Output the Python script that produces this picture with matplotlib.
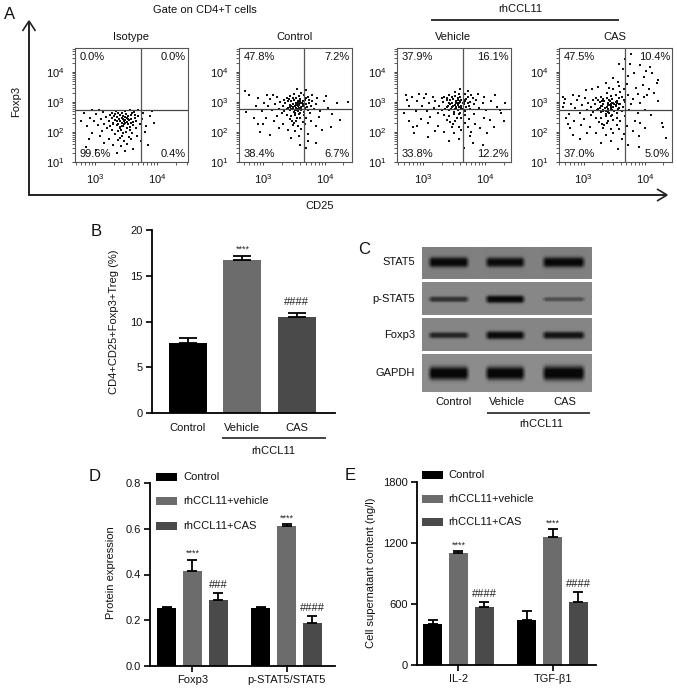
import numpy as np
import matplotlib
matplotlib.use("Agg")
import matplotlib.pyplot as plt
from matplotlib.patches import Rectangle

plt.rcParams['font.family'] = ['Liberation Sans', 'DejaVu Sans']
plt.rcParams['mathtext.default'] = 'regular'
W, H = 677, 691
FS = 8.0

# ---------------- data ----------------
# flow cytometry events: log10(CD25), log10(Foxp3), flat pairs
iso_pts = [
3.41,2.35,3.45,2.42,3.38,2.28,3.52,2.47,3.48,2.31,3.55,2.39,3.33,2.41,3.43,2.21,3.58,2.55,3.50,2.60,
3.36,2.51,3.46,2.52,3.40,2.15,3.61,2.33,3.30,2.30,3.53,2.25,3.64,2.45,3.44,2.63,3.27,2.45,3.56,2.18,
3.42,2.08,3.49,2.40,3.39,2.44,3.47,2.27,3.54,2.53,3.35,2.22,3.60,2.62,3.67,2.38,3.25,2.20,3.51,2.12,
3.37,2.02,3.46,1.95,3.57,2.05,3.32,2.60,3.62,2.24,3.70,2.52,3.22,2.36,3.44,1.88,3.50,1.99,3.40,1.80,
3.63,2.68,3.56,2.72,3.48,2.70,3.34,2.70,3.28,2.62,3.18,2.50,3.15,2.28,3.20,2.12,3.28,2.05,3.33,1.92,
3.38,1.72,3.47,1.70,3.55,1.83,3.60,1.95,3.66,2.12,3.72,2.28,3.76,2.44,3.78,2.62,3.70,2.72,3.10,2.42,
3.05,2.22,3.12,2.02,3.02,2.60,2.98,2.36,2.92,2.48,2.88,2.20,2.82,2.62,2.78,2.35,3.08,1.85,2.95,1.95,
2.90,1.78,3.22,1.75,3.30,1.58,3.42,1.52,3.52,1.60,3.62,1.42,3.48,1.35,3.58,1.75,3.68,1.85,3.80,2.00,
3.82,2.20,3.88,2.52,3.92,2.70,3.95,2.30,3.75,1.70,3.85,1.55,3.35,1.30,3.15,1.62,3.02,1.40,2.85,1.50,
3.43,2.48,3.40,2.55,3.36,2.38,3.46,2.19,3.52,2.34,3.58,2.30,3.31,2.52,3.49,2.50,3.44,2.29,3.41,2.12,
3.54,2.42,3.38,2.62,3.47,2.36,3.29,2.25,3.59,2.44,3.24,2.58,3.65,2.58,3.13,2.65,3.06,2.72,2.96,2.74,
]
ctl_pts = [
3.52,2.85,3.55,2.92,3.48,2.78,3.60,2.98,3.58,2.80,3.65,2.88,3.44,2.90,3.54,2.72,3.68,3.05,3.60,3.10,
3.46,3.02,3.56,3.04,3.50,2.65,3.71,2.84,3.40,2.80,3.62,2.74,3.74,2.96,3.54,3.14,3.36,2.96,3.66,2.68,
3.52,2.58,3.58,2.90,3.48,2.94,3.56,2.76,3.64,3.02,3.44,2.72,3.70,3.12,3.78,2.88,3.34,2.70,3.60,2.62,
3.46,2.52,3.55,2.45,3.67,2.55,3.42,3.10,3.72,2.74,3.80,3.02,3.32,2.86,3.54,2.38,3.60,2.48,3.50,2.30,
3.73,3.18,3.66,3.22,3.58,3.20,3.44,3.20,3.38,3.12,3.28,3.00,3.25,2.78,3.30,2.62,3.38,2.55,3.43,2.42,
3.48,2.22,3.57,2.20,3.65,2.33,3.70,2.45,3.76,2.62,3.82,2.78,3.86,2.94,3.88,3.12,3.80,3.22,3.20,2.92,
3.15,2.72,3.22,2.52,3.12,3.10,3.08,2.86,3.02,2.98,2.98,2.70,2.92,3.12,2.88,2.85,3.18,2.35,3.05,2.45,
3.00,2.28,3.32,2.25,3.40,2.08,3.52,2.02,3.62,2.10,3.72,1.92,3.58,1.85,3.68,2.25,3.78,2.35,3.90,2.50,
3.92,2.70,3.98,3.02,4.02,3.20,4.05,2.80,3.85,2.20,3.95,2.05,3.45,1.80,3.25,2.12,3.12,1.90,2.95,2.00,
3.53,2.98,3.50,3.05,3.46,2.88,3.56,2.69,3.62,2.84,3.68,2.80,3.41,3.02,3.59,3.00,3.54,2.79,3.51,2.62,
3.64,2.92,3.48,3.12,3.57,2.86,3.39,2.75,3.69,2.94,3.34,3.08,3.75,3.08,3.23,3.15,3.16,3.22,3.06,3.24,
3.62,3.30,3.50,3.28,3.72,1.70,3.60,1.55,3.85,1.62,3.70,1.45,3.58,2.60,3.47,2.36,4.12,2.60,4.20,2.95,
4.25,2.40,4.38,3.00,4.10,2.15,2.78,3.22,2.72,2.68,2.70,3.36,2.85,2.45,2.92,2.25,3.55,3.42,3.70,3.40,
3.63,2.95,3.49,2.83,3.57,2.96,3.45,2.75,3.61,2.77,3.53,2.91,3.67,2.91,3.43,2.83,3.59,3.07,3.51,2.74,
]
veh_pts = [
3.52,2.90,3.56,2.98,3.46,2.82,3.62,3.05,3.58,2.84,3.66,2.94,3.42,2.96,3.54,2.76,3.70,3.10,3.60,3.16,
3.44,3.08,3.56,3.12,3.50,2.68,3.74,2.88,3.38,2.84,3.64,2.76,3.76,3.00,3.52,3.20,3.32,3.00,3.68,2.70,
3.50,2.60,3.58,2.95,3.46,2.98,3.54,2.80,3.66,3.08,3.42,2.74,3.72,3.18,3.82,2.92,3.30,2.72,3.60,2.62,
3.42,2.52,3.55,2.45,3.68,2.55,3.38,3.14,3.76,2.76,3.86,3.06,3.26,2.88,3.52,2.36,3.62,2.46,3.48,2.28,
3.78,3.22,3.68,3.28,3.58,3.26,3.42,3.24,3.34,3.18,3.20,3.04,3.18,2.80,3.24,2.62,3.34,2.56,3.38,2.40,
3.46,2.18,3.58,2.18,3.68,2.30,3.74,2.44,3.82,2.60,3.90,2.80,3.96,2.98,3.98,3.16,3.88,3.28,3.10,2.96,
3.06,2.70,3.12,2.50,3.02,3.14,2.98,2.88,2.90,3.02,2.88,2.70,2.82,3.18,2.78,2.88,3.08,2.30,2.96,2.42,
2.90,2.20,3.24,2.20,3.34,2.00,3.50,1.96,3.62,2.05,3.76,1.85,3.58,1.78,3.72,2.18,3.84,2.28,3.98,2.45,
4.02,2.72,4.10,3.04,4.16,3.22,4.20,2.82,3.92,2.12,4.04,1.95,3.42,1.70,3.20,2.02,3.08,1.82,2.86,1.95,
3.53,3.02,3.48,3.10,3.44,2.92,3.56,2.72,3.62,2.88,3.70,2.84,3.38,3.06,3.60,3.04,3.54,2.83,3.50,2.64,
3.66,2.96,3.46,3.16,3.57,2.90,3.36,2.78,3.72,2.98,3.30,3.12,3.80,3.12,3.16,3.18,3.05,3.26,2.94,3.28,
3.72,3.36,3.52,3.34,3.80,1.62,3.66,1.48,3.96,1.55,3.78,2.00,3.58,2.60,3.44,2.34,4.26,2.62,4.32,2.98,
4.30,2.38,2.72,3.24,2.70,2.62,2.74,3.08,2.78,2.38,2.84,2.18,3.60,3.42,4.08,2.40,4.14,2.18,4.24,2.72,
3.64,2.98,3.49,2.86,3.59,3.00,3.45,2.78,3.61,2.80,3.53,2.95,3.68,3.02,3.41,2.87,3.56,3.08,3.51,2.78,
]
cas_pts = [
3.38,2.82,3.42,2.90,3.32,2.74,3.48,2.98,3.44,2.76,3.52,2.86,3.28,2.88,3.40,2.68,3.55,3.04,3.46,3.10,
3.30,3.02,3.42,3.05,3.36,2.60,3.58,2.80,3.24,2.78,3.50,2.70,3.60,2.94,3.38,3.14,3.18,2.94,3.54,2.62,
3.36,2.52,3.44,2.88,3.32,2.92,3.40,2.72,3.52,3.00,3.28,2.68,3.58,3.12,3.64,2.84,3.16,2.66,3.46,2.56,
3.28,2.46,3.40,2.38,3.54,2.48,3.24,3.08,3.62,2.70,3.68,3.00,3.12,2.82,3.38,2.30,3.48,2.40,3.34,2.22,
3.62,3.18,3.52,3.22,3.44,3.20,3.28,3.18,3.20,3.12,3.08,2.98,3.05,2.74,3.12,2.56,3.20,2.48,3.25,2.32,
3.32,2.12,3.44,2.10,3.54,2.24,3.60,2.38,3.68,2.54,3.74,2.72,3.78,2.92,3.80,3.10,3.72,3.22,2.98,2.90,
2.94,2.62,3.00,2.42,2.90,3.06,2.86,2.80,2.80,2.94,2.76,2.60,2.70,3.10,2.66,2.84,2.96,2.22,2.84,2.36,
2.78,2.12,3.10,2.15,3.20,1.95,3.36,1.90,3.48,1.98,3.62,1.78,3.44,1.70,3.58,2.10,3.70,2.20,3.84,2.36,
3.88,2.62,3.92,2.96,3.98,3.18,4.00,2.74,3.80,2.04,3.90,1.86,3.28,1.62,3.06,1.95,2.94,1.75,2.82,1.90,
3.40,2.95,3.34,3.04,3.30,2.86,3.42,2.64,3.48,2.82,3.56,2.78,3.26,3.00,3.46,2.98,3.40,2.76,3.36,2.58,
3.52,2.90,3.32,3.10,3.44,2.84,3.22,2.72,3.58,2.92,3.16,3.06,3.66,3.06,3.02,3.12,2.92,3.20,2.82,3.22,
3.60,3.32,3.38,3.30,3.72,1.55,3.56,1.42,3.90,1.50,3.66,1.92,3.44,2.54,3.30,2.28,4.10,2.55,4.22,3.04,
4.28,2.30,2.66,3.18,2.72,2.48,2.68,2.96,2.74,2.28,3.48,3.42,3.92,2.30,4.00,2.12,4.30,2.18,4.34,1.80,
3.58,3.52,3.70,3.60,3.86,3.46,3.96,3.58,4.06,3.42,4.14,3.30,4.20,3.62,3.72,3.86,3.82,3.98,3.64,4.10,
3.76,4.28,3.68,4.42,3.78,4.60,3.58,4.25,3.92,4.22,4.08,4.18,4.12,3.95,4.02,4.02,3.98,3.82,4.22,3.72,
3.48,3.80,3.36,3.62,3.24,3.50,3.14,3.44,3.04,3.40,3.42,3.46,3.56,3.68,3.66,3.42,3.88,3.28,4.04,3.24,
3.50,2.93,3.35,2.80,3.45,2.94,3.31,2.70,3.47,2.74,3.39,2.89,3.54,2.96,3.27,2.81,3.43,3.02,3.37,2.71,
]
flow_names = ['Isotype', 'Control', 'Vehicle', 'CAS']
flow_sets = [iso_pts, ctl_pts, veh_pts, cas_pts]
flow_pcts = [['0.0%', '0.0%', '99.6%', '0.4%'],
             ['47.8%', '7.2%', '38.4%', '6.7%'],
             ['37.9%', '16.1%', '33.8%', '12.2%'],
             ['47.5%', '10.4%', '37.0%', '5.0%']]
flow_gates = [(3.74, 2.73), (3.66, 2.77), (3.64, 2.77), (3.67, 2.73)]
flow_xlims = [(2.68, 4.50), (2.61, 4.44), (2.58, 4.42), (2.60, 4.44)]

b_labels = ['Control', 'Vehicle', 'CAS']
b_vals = [7.7, 16.75, 10.5]
b_err = [0.5, 0.45, 0.4]
b_marks = ['', '****', '####']

d_groups = ['Foxp3', 'p-STAT5/STAT5']
d_vals = [[0.253, 0.253], [0.415, 0.61], [0.29, 0.19]]
d_err = [[0.006, 0.006], [0.05, 0.01], [0.03, 0.03]]
d_marks = [['', ''], ['****', '****'], ['###', '####']]

e_groups = ['IL-2', 'TGF-\u03b21']
e_vals = [[400, 440], [1100, 1255], [570, 620]]
e_err = [[40, 90], [20, 85], [45, 95]]
e_marks = [['', ''], ['****', '****'], ['####', '####']]

series = ['Control', 'rhCCL11+vehicle', 'rhCCL11+CAS']
colors = ['#000000', '#6c6c6c', '#4a4a4a']

blot_labels = ['STAT5', 'p-STAT5', 'Foxp3', 'GAPDH']
blot_back = [0.50, 0.53, 0.52, 0.55]
# band strength and half-thickness (px) per lane: Control, Vehicle, CAS
blot_strength = [[0.95, 0.92, 0.95], [0.62, 0.95, 0.42], [0.72, 0.92, 0.85], [1.0, 1.0, 1.0]]
blot_thick = [[4.5, 4.2, 4.5], [2.2, 3.2, 1.6], [2.4, 3.4, 3.0], [6.0, 6.0, 6.5]]

# ---------------- layout helpers ----------------
fig = plt.figure(figsize=(W / 100, H / 100), dpi=100, facecolor='white')

def axpx(l, t, r, b, **kw):
    return fig.add_axes([l / W, 1 - b / H, (r - l) / W, (b - t) / H], **kw)

ov = axpx(0, 0, W, H, zorder=5)
ov.set_xlim(0, W); ov.set_ylim(H, 0); ov.axis('off'); ov.patch.set_alpha(0)

def T(x, y, s, ha='center', va='center', fs=FS, **kw):
    ov.text(x, y, s, ha=ha, va=va, fontsize=fs, color='#111111', **kw)

def L(xs, ys, lw=1.2, c='#222222'):
    ov.plot(xs, ys, color=c, lw=lw, solid_capstyle='butt', solid_joinstyle='miter')

# ---------------- panel A ----------------
flow_boxes = [(75, 188), (239, 352), (397, 511), (559, 672)]
for (l, r), name, pts, pcts, (gx, gy), xl in zip(flow_boxes, flow_names, flow_sets,
                                                 flow_pcts, flow_gates, flow_xlims):
    ax = axpx(l, 48, r, 162)
    p = np.array(pts).reshape(-1, 2)
    ax.scatter(p[:, 0], p[:, 1], s=1.8, c='#111111', marker='s', linewidths=0)
    ax.axvline(gx, color='#555555', lw=0.9)
    ax.axhline(gy, color='#444444', lw=0.9)
    ax.set_xlim(*xl); ax.set_ylim(1, 4.8)
    ax.set_xticks([3, 4]); ax.set_xticklabels(['$10^{3}$', '$10^{4}$'], fontsize=FS)
    ax.set_yticks([1, 2, 3, 4]); ax.set_yticklabels(['$10^{1}$', '$10^{2}$', '$10^{3}$', '$10^{4}$'], fontsize=FS)
    dec = np.log10(np.arange(2, 10))
    ax.set_xticks([d + m for d in (2, 3, 4) for m in dec if xl[0] < d + m < xl[1]], minor=True)
    ax.set_yticks([d + m for d in (1, 2, 3, 4) for m in dec if d + m < 4.8], minor=True)
    ax.tick_params(which='major', length=2.5, width=0.7, color='#444444', pad=5, labelcolor='#111111')
    ax.tick_params(which='minor', length=2, width=0.6, color='#444444')
    for s in ax.spines.values():
        s.set_linewidth(0.8); s.set_color('#555555')
    cx = (l + r) / 2
    T(cx - 1, 37, name)
    T(l + 5, 57, pcts[0], ha='left'); T(r - 2, 57, pcts[1], ha='right')
    T(l + 5, 154, pcts[2], ha='left'); T(r - 2, 154, pcts[3], ha='right')

T(205, 10, 'Gate on CD4+T cells')
T(520, 9, 'rhCCL11')
L([431, 619], [20, 20], lw=1.3)
T(320, 206, 'CD25')
T(16, 101, 'Foxp3', rotation=90)
T(10, 14, 'A', fs=12)
L([29, 29, 667], [21, 195, 195], lw=1.4)
L([22.5, 29, 35.5], [31, 21, 31], lw=1.2)
L([657, 667, 657], [189, 195, 201], lw=1.2)

# ---------------- panel B ----------------
def style_bar(ax):
    for s in ('top', 'right'):
        ax.spines[s].set_visible(False)
    for s in ('left', 'bottom'):
        ax.spines[s].set_linewidth(1.3)
    ax.tick_params(length=4.2, width=1.3, labelsize=FS, pad=2.5, colors='#111111')

def mark(ax, x, top, s, dy_star=6, dy_hash=8):
    if not s:
        return
    star = s.startswith('*')
    ax.annotate(s, (x, top), xytext=(0, (dy_star if star else dy_hash) * 0.72),
                textcoords='offset points', ha='center', va='center',
                fontsize=6.5 if star else 8, color='#222222')

axB = axpx(152, 230, 335, 413)
xb = np.arange(3)
axB.bar(xb, b_vals, width=0.7, color=colors)
for i in xb:
    axB.errorbar(i, b_vals[i], yerr=[[0], [b_err[i]]], color=colors[0], lw=1.3, capsize=6.5, capthick=1.3)
    mark(axB, i, b_vals[i] + b_err[i], b_marks[i], dy_star=6, dy_hash=11)
axB.set_xlim(-0.66, 2.70); axB.set_ylim(0, 20)
axB.set_xticks(xb); axB.set_xticklabels(b_labels)
axB.set_yticks([0, 5, 10, 15, 20])
style_bar(axB)
axB.tick_params(axis='x', length=0, pad=7)
T(114, 322, 'CD4+CD25+Foxp3+Treg (%)', rotation=90)
L([222, 326], [438, 438], lw=1.2)
T(273, 451, 'rhCCL11')
T(96, 231, 'B', fs=12)

# ---------------- panel C ----------------
blot_rows = [(247, 279, 262), (282, 315, 299), (318, 351, 335), (354, 392, 373)]
lanes = [(427, 470), (484, 526), (541, 586)]
for (t, b, yc), name, back, st, th in zip(blot_rows, blot_labels, blot_back, blot_strength, blot_thick):
    ax = axpx(422, t, 592, b)
    xx, yy = np.meshgrid(np.arange(422, 592.0, 0.5), np.arange(t, b, 0.5))
    img = np.full(xx.shape, back, float)
    for (a, c), s, h in zip(lanes, st, th):
        side = np.clip((xx - a) / 5, 0, 1) * np.clip((c - xx) / 5, 0, 1)
        img -= back * s * np.exp(-np.abs((yy - yc) / (h + 0.6 * side)) ** 3) * side
    ax.imshow(np.clip(img, 0.03, 1), cmap='gray', vmin=0, vmax=1, aspect='auto', extent=(422, 592, b, t))
    ax.axis('off')
    T(415, yc, name, ha='right')
for x, s in zip((453, 507, 565), b_labels):
    T(x, 402, s)
L([487, 590], [413, 413], lw=1.2)
T(541, 424, 'rhCCL11')
T(364, 249, 'C', fs=12)

# ---------------- panels D and E ----------------
def grouped(box, xl, yl, yt, groups, vals, err, marks, gap=3.66):
    ax = axpx(*box)
    centers = np.array([0, gap])
    for k in range(3):
        xp = centers + k - 1
        ax.bar(xp, vals[k], width=0.74, color=colors[k])
        for j in range(2):
            ax.errorbar(xp[j], vals[k][j], yerr=[[0], [err[k][j]]], color=colors[0], lw=1.3, capsize=3.3, capthick=1.3)
            mark(ax, xp[j], vals[k][j] + err[k][j], marks[k][j], dy_star=6, dy_hash=8)
    ax.set_xlim(*xl); ax.set_ylim(*yl)
    ax.set_xticks(centers); ax.set_xticklabels(groups)
    ax.set_yticks(yt)
    style_bar(ax)
    return ax

axD = grouped((150, 483, 335, 666), (-1.65, 5.54), (0, 0.8), [0, 0.2, 0.4, 0.6, 0.8],
              d_groups, d_vals, d_err, d_marks)
axD.set_yticklabels(['0.0', '0.2', '0.4', '0.6', '0.8'])
axE = grouped((417, 482, 596, 665), (-1.61, 5.35), (0, 1800), [0, 600, 1200, 1800],
              e_groups, e_vals, e_err, e_marks)

def legend(x0, x1, xt, ys):
    for y, s, c in zip(ys, series, colors):
        ov.add_patch(Rectangle((x0, y - 4), x1 - x0, 8, color=c, lw=0))
        T(xt, y, s, ha='left')

legend(156, 177, 183, (477, 501, 526))
legend(422, 443, 448, (475, 499, 522))
T(111, 573, 'Protein expression', rotation=90)
T(371, 573, 'Cell supernatant content (ng/l)', rotation=90)
T(95, 476, 'D', fs=12)
T(350, 475, 'E', fs=12)

fig.savefig('out.png', dpi=100)
